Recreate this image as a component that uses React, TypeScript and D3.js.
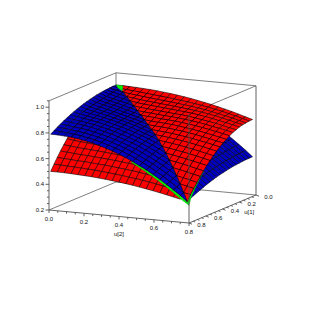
import React from "react";
import * as d3 from "d3";

// Surface heights: row = u[1] index, column = u[2] index.
const upperSurface: number[][] = [
  [.955,.954,.950,.945,.937,.926,.914,.899,.881,.862,.840,.816,.789,.760,.729,.696,.660,.622,.582,.540,.495],
  [.955,.945,.938,.930,.919,.907,.894,.879,.862,.843,.823,.801,.776,.749,.720,.688,.654,.617,.579,.538,.495],
  [.953,.940,.930,.920,.909,.896,.882,.867,.850,.832,.812,.791,.767,.741,.714,.682,.648,.612,.575,.535,.494],
  [.951,.935,.923,.911,.900,.885,.871,.857,.840,.822,.803,.783,.760,.735,.707,.677,.644,.608,.571,.533,.492],
  [.948,.930,.917,.905,.892,.878,.863,.849,.832,.815,.796,.776,.754,.729,.703,.673,.640,.605,.569,.530,.489],
  [.944,.924,.910,.897,.885,.870,.855,.841,.825,.808,.790,.770,.748,.724,.697,.667,.636,.601,.565,.526,.486],
  [.940,.919,.905,.891,.878,.863,.849,.834,.818,.800,.782,.764,.742,.718,.691,.662,.631,.596,.560,.523,.483],
  [.934,.913,.899,.886,.873,.858,.843,.830,.813,.796,.778,.760,.738,.714,.688,.659,.626,.592,.557,.518,.478],
  [.928,.908,.894,.881,.868,.853,.839,.824,.809,.791,.773,.754,.733,.709,.682,.653,.621,.587,.551,.513,.473],
  [.921,.901,.888,.875,.863,.848,.834,.820,.803,.786,.767,.749,.727,.703,.676,.648,.615,.581,.545,.507,.467],
  [.913,.895,.882,.870,.858,.844,.829,.815,.799,.781,.763,.744,.722,.698,.671,.641,.609,.575,.539,.501,.461],
  [.904,.888,.876,.865,.853,.839,.826,.812,.796,.778,.759,.740,.717,.692,.664,.635,.603,.569,.533,.493,.454],
  [.894,.880,.869,.859,.848,.835,.821,.807,.791,.773,.753,.734,.711,.686,.659,.629,.597,.562,.525,.487,.446],
  [.883,.871,.861,.852,.842,.829,.815,.801,.785,.767,.748,.727,.704,.679,.651,.621,.588,.553,.517,.478,.437],
  [.872,.862,.853,.844,.834,.821,.808,.794,.777,.760,.740,.719,.696,.670,.643,.612,.579,.545,.508,.470,.428],
  [.859,.850,.842,.835,.825,.812,.800,.786,.769,.752,.732,.711,.687,.661,.633,.603,.570,.535,.499,.459,.418],
  [.846,.839,.831,.825,.815,.803,.791,.777,.760,.743,.723,.702,.678,.651,.623,.594,.560,.525,.487,.449,.407],
  [.832,.826,.819,.813,.804,.793,.780,.767,.750,.732,.712,.691,.667,.641,.612,.582,.550,.514,.477,.438,.396],
  [.817,.813,.807,.801,.793,.781,.770,.756,.739,.721,.702,.680,.655,.629,.600,.570,.537,.502,.465,.426,.384],
  [.801,.798,.793,.788,.781,.769,.759,.744,.727,.709,.690,.667,.643,.616,.588,.557,.524,.489,.452,.413,.372],
  [.785,.784,.780,.776,.769,.758,.748,.733,.716,.699,.678,.656,.631,.604,.576,.545,.512,.476,.440,.402,.358],
];
const gridMax = 0.78;
const gridCount = 20;

const greenEdgeIndex = [12, 13, 14, 15, 16, 17, 18, 19, 20];
const greenEdgeZ = [0.632, 0.603, 0.573, 0.541, 0.507, 0.470, 0.432, 0.392, 0.336];
const greenLeftOuterU2 = [0.468, 0.507, 0.546, 0.585, 0.624, 0.663, 0.702, 0.741, 0.8];
const greenRightOuterU2 = [0.784, 0.785, 0.786, 0.787, 0.788, 0.79, 0.792, 0.795, 0.8];
const greenApex: [number, number, number][] = [[0, 0, 0.957], [0, 0.04, 0.955], [0.07, 0.07, 0.935], [0.02, 0.02, 0.94]];

const uTicks = d3.range(0, 17).map((d) => d * 0.05);
const uLabels = [0, 0.2, 0.4, 0.6, 0.8];
const zTicks = d3.range(0, 18).map((d) => 0.2 + d * 0.05);
const zLabels = [0.2, 0.4, 0.6, 0.8, 1.0];

const uMax = 0.8, zMin = 0.2, zMax = 1.05;

// Oblique projection built from D3 scales.
const xU2 = d3.scaleLinear().domain([0, uMax]).range([0, 140]);
const xU1 = d3.scaleLinear().domain([0, uMax]).range([0, -67]);
const yU2 = d3.scaleLinear().domain([0, uMax]).range([0, 13]);
const yU1 = d3.scaleLinear().domain([0, uMax]).range([0, 28]);
const yZ = d3.scaleLinear().domain([zMin, zMax]).range([0, -109.2]);
const originX = 116, originY = 182;

const project = (u1: number, u2: number, z: number): [number, number] => [
  originX + xU2(u2) + xU1(u1),
  originY + yU2(u2) + yU1(u1) + yZ(z),
];
const depth = (u1: number, u2: number, z: number) => 67 * u2 + 140 * u1 + 37.3 * z;
const gridU = (k: number) => (k * gridMax) / gridCount;
const poly = (pts: [number, number, number][]) =>
  (d3.line()(pts.map((p) => project(p[0], p[1], p[2]))) as string) + "Z";

type Quad = { d: string; fill: string; depth: number };
const RED = "#ff0000";
const BLUE = "#0000c0";
const blueAt = (i: number, j: number) => upperSurface[i][j];
const redAt = (i: number, j: number) => upperSurface[j][i];

const piece = (cells: [number, number][], at: (i: number, j: number) => number, fill: string): Quad => {
  const corners = cells.map(([i, j]) => [gridU(i), gridU(j), at(i, j)] as [number, number, number]);
  return { d: poly(corners), fill, depth: d3.mean(corners, (c) => depth(c[0], c[1], c[2])) as number };
};

const lowerQuads: Quad[] = [];
const upperQuads: Quad[] = [];
for (let i = 0; i < gridCount; i++) {
  for (let j = 0; j < gridCount; j++) {
    const cell: [number, number][] = [[i, j], [i + 1, j], [i + 1, j + 1], [i, j + 1]];
    if (i > j) {
      upperQuads.push(piece(cell, blueAt, BLUE));
      lowerQuads.push(piece(cell, redAt, RED));
    } else if (i < j) {
      upperQuads.push(piece(cell, redAt, RED));
      lowerQuads.push(piece(cell, blueAt, BLUE));
    } else {
      upperQuads.push(piece([[i, i], [i + 1, i], [i + 1, i + 1]], blueAt, BLUE));
      upperQuads.push(piece([[i, i], [i, i + 1], [i + 1, i + 1]], redAt, RED));
    }
  }
}
const byDepth = (a: Quad, b: Quad) => a.depth - b.depth;
lowerQuads.sort(byDepth);
upperQuads.sort(byDepth);

const leftRibbon: string[] = [];
const rightRibbon: string[] = [];
greenEdgeIndex.slice(0, -1).forEach((k, n) => {
  const k2 = greenEdgeIndex[n + 1];
  leftRibbon.push(poly([
    [gridU(gridCount), gridU(k), upperSurface[gridCount][k]],
    [gridU(gridCount), gridU(k2), upperSurface[gridCount][k2]],
    [uMax, greenLeftOuterU2[n + 1], greenEdgeZ[n + 1]],
    [uMax, greenLeftOuterU2[n], greenEdgeZ[n]],
  ]));
  if (k >= 15) {
    rightRibbon.push(poly([
      [gridU(k), gridU(gridCount), upperSurface[gridCount][k]],
      [gridU(k2), gridU(gridCount), upperSurface[gridCount][k2]],
      [k2 * 0.04, greenRightOuterU2[n + 1], greenEdgeZ[n + 1]],
      [k * 0.04, greenRightOuterU2[n], greenEdgeZ[n]],
    ]));
  }
});

const font = "'Liberation Sans', Arial, sans-serif";
const back = "#707070";
const front = "#505050";

function Seg({ a, b, c = back, w = 0.9 }: { a: [number, number]; b: [number, number]; c?: string; w?: number }) {
  return <line x1={a[0]} y1={a[1]} x2={b[0]} y2={b[1]} stroke={c} strokeWidth={w} />;
}

function Label({ p, t, anchor = "middle" }: { p: [number, number]; t: string; anchor?: string }) {
  return (
    <text x={p[0]} y={p[1]} fontSize={6} fontFamily={font} fill="#111" textAnchor={anchor as any} dominantBaseline="central">
      {t}
    </text>
  );
}

export default function App() {
  const isMajor = (v: number) => Math.abs(v * 5 - Math.round(v * 5)) < 1e-6;
  const meshProps = { stroke: "#000", strokeWidth: 0.55, strokeLinejoin: "round" as const };
  return (
    <svg width={327} height={327} viewBox="0 0 327 327" style={{ position: "absolute", left: 0, top: 0, background: "#fff" }}>
      {/* back of the box */}
      <Seg a={project(uMax, 0, zMax)} b={project(0, 0, zMax)} />
      <Seg a={project(0, 0, zMax)} b={project(0, uMax, zMax)} />
      <Seg a={project(0, uMax, zMax)} b={project(uMax, uMax, zMax)} />
      <Seg a={project(0, 0, zMin)} b={project(0, 0, zMax)} />
      <Seg a={project(uMax, 0, zMin)} b={project(0, 0, zMin)} />
      <Seg a={project(0, uMax, zMin)} b={project(0, 0, zMin)} />

      {/* surfaces */}
      <g {...meshProps}>
        {lowerQuads.map((q, i) => (
          <path key={i} d={q.d} fill={q.fill} />
        ))}
      </g>
      <g fill="#00f000" stroke="#063" strokeWidth={0.2}>
        {leftRibbon.map((d, i) => <path key={i} d={d} />)}
        {rightRibbon.map((d, i) => <path key={i} d={d} />)}
      </g>
      <g {...meshProps}>
        {upperQuads.map((q, i) => (
          <path key={i} d={q.d} fill={q.fill} />
        ))}
      </g>
      <path d={poly(greenApex)} fill="#00f000" stroke="#063" strokeWidth={0.2} />

      {/* front of the box and axes */}
      <Seg a={project(uMax, uMax, zMin)} b={project(uMax, uMax, zMax)} c={front} />
      <Seg a={project(uMax, 0, zMin)} b={project(uMax, 0, zMax)} c={front} />
      <Seg a={project(0, uMax, zMin)} b={project(0, uMax, zMax)} c={front} />
      <Seg a={project(uMax, 0, zMin)} b={project(uMax, uMax, zMin)} c={front} />
      <Seg a={project(0, uMax, zMin)} b={project(uMax, uMax, zMin)} c={front} />

      {zTicks.map((v) => {
        const p = project(uMax, 0, v);
        return <Seg key={v} a={p} b={[p[0] - (isMajor(v) ? 3.5 : 2), p[1]]} c={front} />;
      })}
      {uTicks.map((v) => {
        const p = project(uMax, v, zMin);
        return <Seg key={v} a={p} b={[p[0], p[1] + (isMajor(v) ? 3 : 2)]} c={front} />;
      })}
      {uTicks.map((v) => {
        const p = project(v, uMax, zMin);
        return <Seg key={v} a={p} b={[p[0] + (isMajor(v) ? 3 : 2), p[1] + (isMajor(v) ? 1.2 : 0.8)]} c={front} />;
      })}

      {zLabels.map((v) => {
        const p = project(uMax, 0, v);
        return <Label key={v} p={[p[0] - 5, p[1]]} t={v.toFixed(1)} anchor="end" />;
      })}
      {uLabels.map((v) => {
        const p = project(uMax, v, zMin);
        return <Label key={v} p={[p[0], p[1] + 8.5]} t={v.toFixed(1)} />;
      })}
      {uLabels.map((v) => {
        const p = project(v, uMax, zMin);
        return <Label key={v} p={[p[0] + 12.5, p[1] + 2.2]} t={v.toFixed(1)} />;
      })}
      <Label p={[119, 234.3]} t="u[2]" />
      <Label p={[249.3, 212]} t="u[1]" />
    </svg>
  );
}
